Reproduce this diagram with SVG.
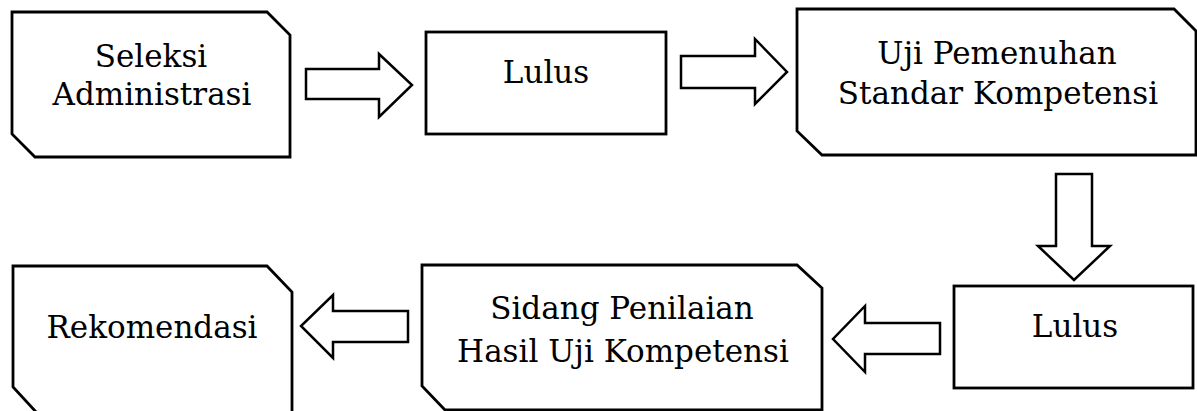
<svg xmlns="http://www.w3.org/2000/svg" width="1197" height="411" viewBox="0 0 1197 411">
<style>
.shape{fill:#fff;stroke:#000;stroke-width:2.8;stroke-linejoin:miter}
.arrow{fill:#fff;stroke:#000;stroke-width:2.5;stroke-linejoin:miter}
.lbl{font-family:"DejaVu Serif","Liberation Serif",serif;font-size:31px;fill:#000;text-anchor:middle}
</style>
<rect width="1197" height="411" fill="#fff"/>
<g id="connectors">
  <polygon class="arrow" points="306,69 379,69 379,54 412,85 379,117 379,99 306,99"/>
  <polygon class="arrow" points="681,56 755,56 755,39 787,72 755,104 755,88 681,88"/>
  <polygon class="arrow" points="1056,174 1092,174 1092,246 1110,246 1074,280 1038,246 1056,246"/>
  <polygon class="arrow" points="940,323 865,323 865,306 833,339 865,372 865,354 940,354"/>
  <polygon class="arrow" points="408,311 333,311 333,295 301,326 333,358 333,342 408,342"/>
</g>
<g id="node-seleksi">
  <polygon class="shape" points="12,12 267,12 290,35 290,157 35,157 12,134"/>
  <text class="lbl" x="151" y="66.5">Seleksi</text>
  <text class="lbl" x="152" y="105">Administrasi</text>
</g>
<g id="node-lulus1">
  <rect class="shape" x="426" y="32" width="240" height="102"/>
  <text class="lbl" x="546" y="83">Lulus</text>
</g>
<g id="node-uji">
  <polygon class="shape" points="797,9 1174,9 1196,31 1196,155 822,155 797,131"/>
  <text class="lbl" x="997" y="64">Uji Pemenuhan</text>
  <text class="lbl" x="998" y="104">Standar Kompetensi</text>
</g>
<g id="node-lulus2">
  <rect class="shape" x="954" y="286" width="239" height="102"/>
  <text class="lbl" x="1075" y="337">Lulus</text>
</g>
<g id="node-sidang">
  <polygon class="shape" points="422,265 797,265 822,288 822,410 445,410 422,386"/>
  <text class="lbl" x="622" y="319">Sidang Penilaian</text>
  <text class="lbl" x="623" y="362">Hasil Uji Kompetensi</text>
</g>
<g id="node-rekomendasi">
  <polygon class="shape" points="13,266 267,266 292,292 292,413 37,413 13,387"/>
  <text class="lbl" x="152" y="338">Rekomendasi</text>
</g>
</svg>
